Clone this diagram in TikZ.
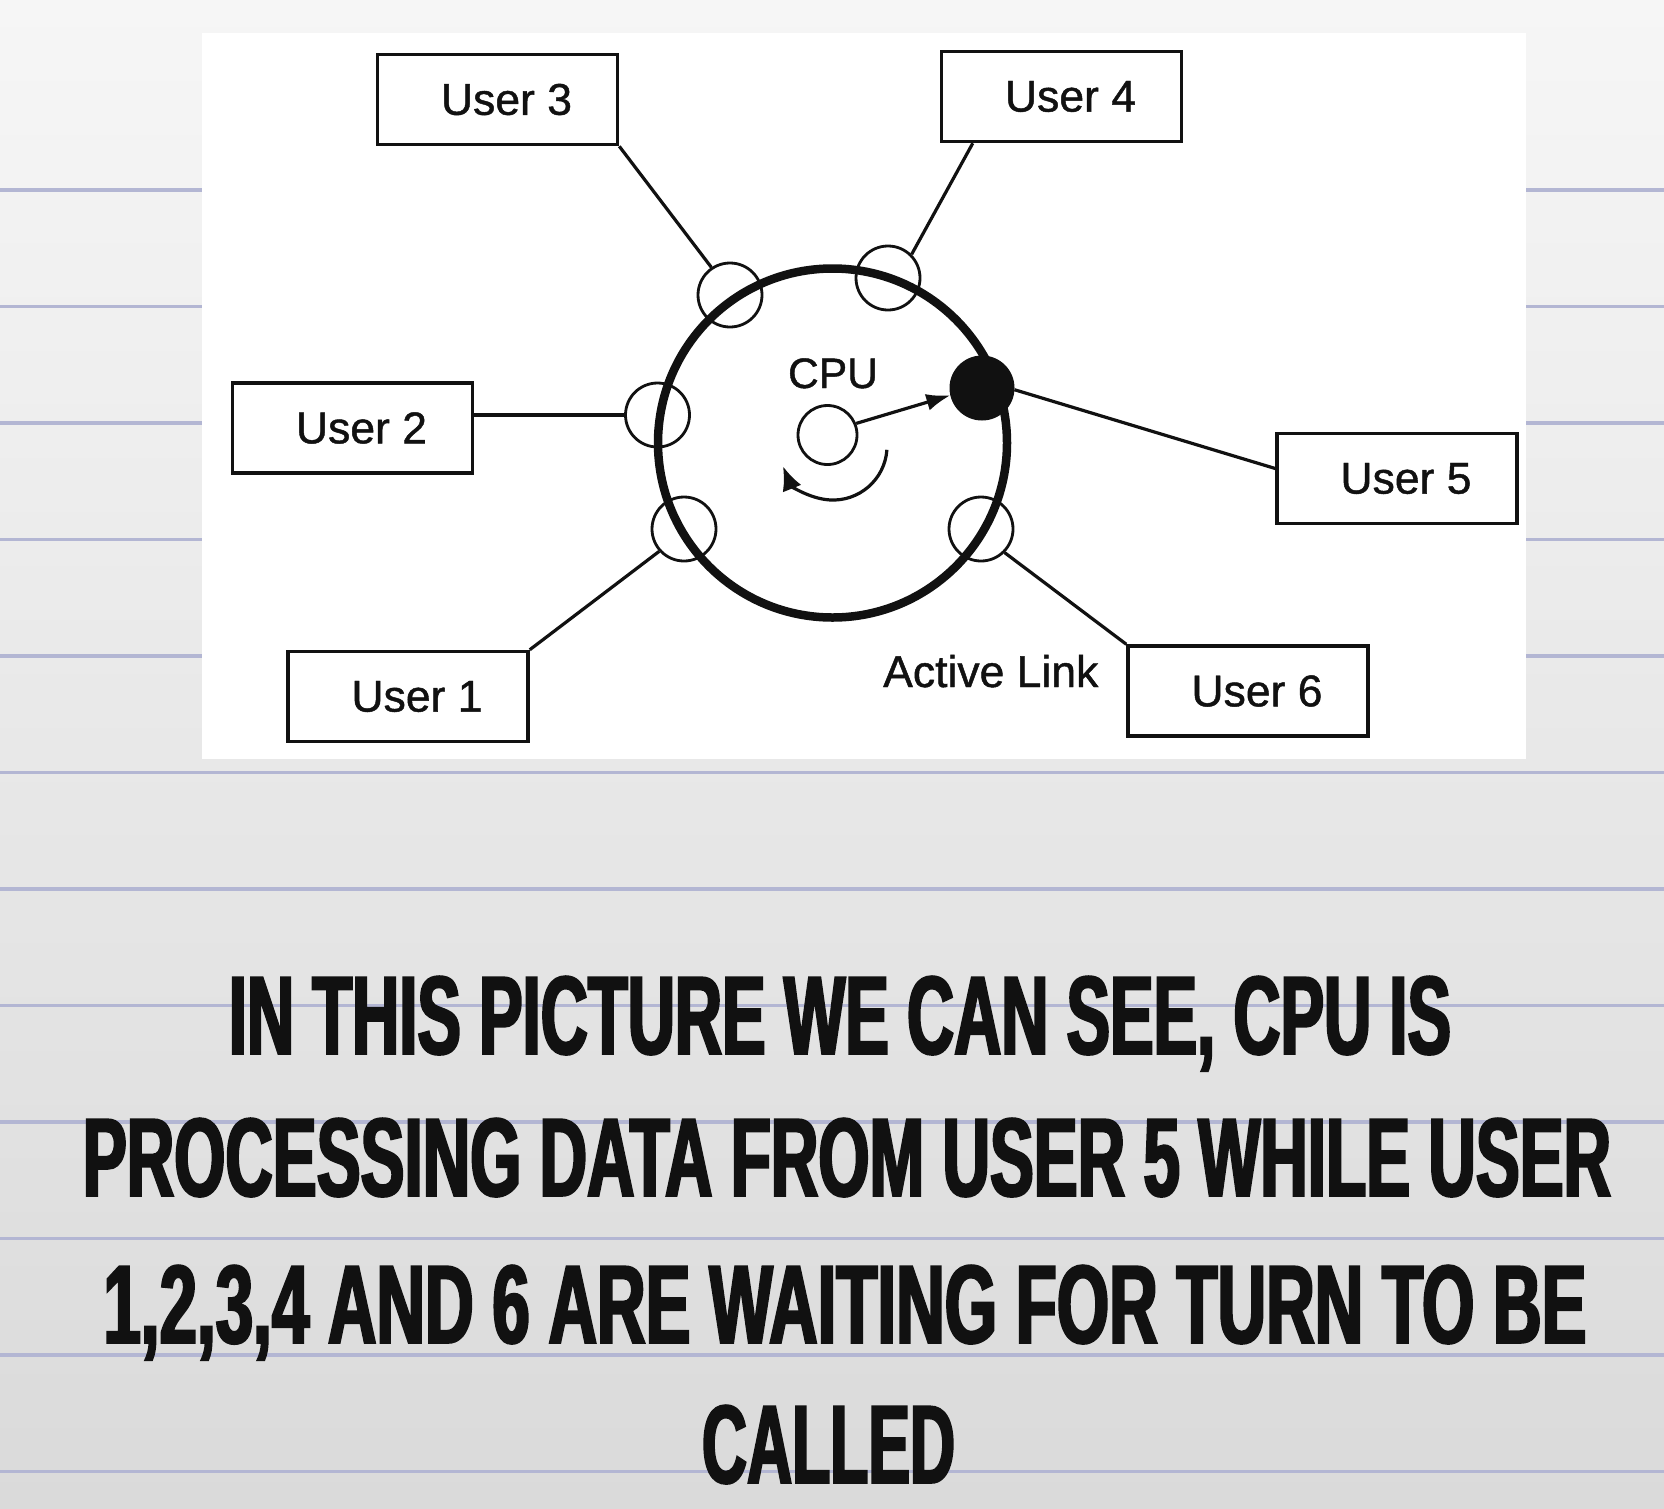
\documentclass[tikz,border=0pt]{standalone}
\usepackage{fontspec}
\setmainfont{Liberation Sans}
\newfontfamily\labelfont{Liberation Sans}[FakeBold=1.0]
\newfontfamily\capsfont{Liberation Sans}[BoldFeatures={FakeStretch=0.35,FakeBold=1.4}]
\usetikzlibrary{arrows.meta,calc}
\definecolor{papertop}{HTML}{F6F6F6}
\definecolor{paperbot}{HTML}{DADADA}
\definecolor{rule}{HTML}{B3B6D3}
\definecolor{ink}{HTML}{111111}
\tikzset{
  userbox/.style={draw=ink, line width=3.5pt, minimum width=240pt, minimum height=90pt,
    inner sep=0pt, font=\labelfont\fontsize{44.5}{50}\selectfont, text=ink},
  port/.style={circle, draw=ink, line width=2.8pt, minimum size=64pt, inner sep=0pt},
  link/.style={draw=ink, line width=3.2pt},
  capline/.style={inner sep=0pt, anchor=base, text=ink},
  ruleline/.style={draw=rule, line width=3.5pt}
}
\newcommand{\capstext}[3]{\resizebox{#1}{#2}{\capsfont\bfseries\fontsize{100}{100}\selectfont #3}}
\begin{document}
\begin{tikzpicture}[x=1pt,y=-1pt]
\useasboundingbox (0,0) rectangle (1664,1508);
\shade[top color=papertop, bottom color=paperbot] (0,0) rectangle (1664,1508);
\foreach \yy in {190,306.5,423,539.5,656,772.5,889,1005.5,1122,1238.5,1355,1471.5}
  \draw[ruleline] (0,\yy) -- (1664,\yy);
\fill[white] (202,33) rectangle (1526,759);

% ring and ports
\node[circle, draw=ink, line width=8.5pt, minimum size=349pt, inner sep=0pt] (ring) at (832.5,443) {};
\node[port] (S3) at (730,295) {};
\node[port] (S4) at (888,278) {};
\node[port] (S2) at (657.5,415) {};
\node[port] (S1) at (684,529) {};
\node[port] (S6) at (981,529) {};
\node[circle, fill=ink, draw=ink, line width=1pt, minimum size=64pt, inner sep=0pt] (A) at (982,388) {};
\node[circle, draw=ink, line width=2.8pt, minimum size=59pt, inner sep=0pt] (C) at (827.5,435) {};
\node[anchor=base, inner sep=0pt, font=\labelfont\fontsize{42.6}{48}\selectfont, text=ink] (cpu) at (833,388) {CPU};

% users
\node[userbox] (U3) at (497.5,99.5) {\hspace*{18pt}User 3};
\node[userbox] (U4) at (1061.5,96.5) {\hspace*{18pt}User 4};
\node[userbox] (U2) at (352.5,428) {\hspace*{18pt}User 2};
\node[userbox] (U5) at (1397,478.5) {\hspace*{18pt}User 5};
\node[userbox] (U1) at (408,696.5) {\hspace*{18pt}User 1};
\node[userbox] (U6) at (1248,691) {\hspace*{18pt}User 6};
\node[anchor=base west, inner sep=0pt, font=\labelfont\fontsize{44.5}{50}\selectfont, text=ink] (al) at (883,687) {Active Link};

% connectors
\draw[link] (U3.south east) -- (S3.124);
\draw[link] ([xshift=33pt]U4.south west) -- (S4.45);
\draw[link] (S2.west) -- (S2.west -| U2.east);
\draw[link] (U1.north east) -- (S1.222);
\draw[link] (U6.north west) -- (S6.-45);
\draw[link] ([yshift=10pt]U5.west) -- (A.-3);
\draw[link, -{Latex[length=24pt,width=17pt]}] (C.22) -- (A.193);
\draw[link, -{Latex[length=24pt,width=20pt]}] ($(C.center)+(59.4,14.8)$) arc[start angle=4, end angle=158, radius=54];

% caption
\node[capline] (t1) at (840,1054) {\capstext{1222pt}{78pt}{IN THIS PICTURE WE CAN SEE, CPU IS}};
\node[capline] (t2) at (847,1196) {\capstext{1528pt}{78pt}{PROCESSING DATA FROM USER 5 WHILE USER}};
\node[capline] (t3) at (845,1343) {\capstext{1483pt}{78pt}{1,2,3,4 AND 6 ARE WAITING FOR TURN TO BE}};
\node[capline] (t4) at (828.5,1483) {\capstext{253pt}{78pt}{CALLED}};
\end{tikzpicture}
\end{document}
